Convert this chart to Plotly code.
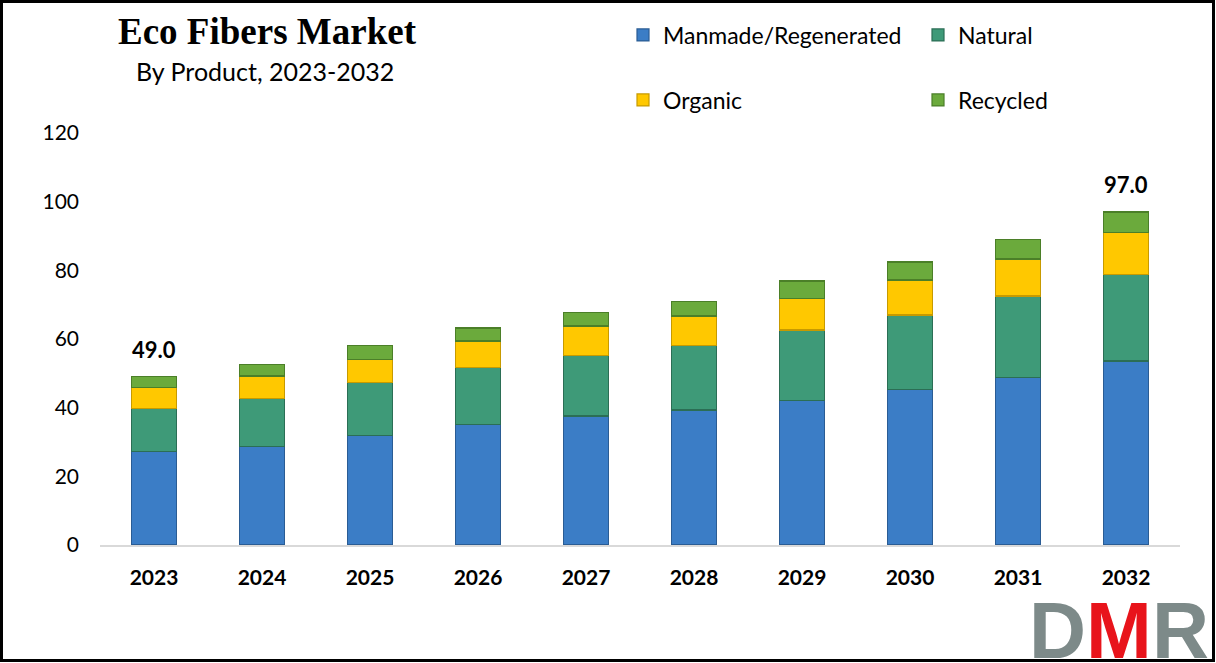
import plotly.graph_objects as go

years = ["2023", "2024", "2025", "2026", "2027", "2028", "2029", "2030", "2031", "2032"]
manmade = [27.2, 28.8, 32.0, 35.2, 37.6, 39.3, 42.2, 45.4, 48.8, 53.6]
natural = [12.6, 13.9, 15.3, 16.4, 17.5, 18.7, 20.4, 21.6, 23.7, 25.3]
organic = [6.1, 6.5, 6.8, 7.8, 8.7, 8.7, 9.3, 10.2, 10.8, 12.1]
recycled = [3.1, 3.4, 3.9, 3.8, 4.0, 4.3, 5.0, 5.2, 5.7, 6.0]
totals = [49.0, 52.6, 58.0, 63.2, 67.8, 71.0, 76.9, 82.4, 89.0, 97.0]
y_ticks = [0, 20, 40, 60, 80, 100, 120]

W, H = 1216, 663
ML, MR, MT, MB = 100, 36, 133, 118
PW, PH = W - ML - MR, H - MT - MB


def px_x(p):
    return (p - ML) / PW


def px_y(p):
    return (H - MB - p) / PH


series = [
    ("Manmade/Regenerated", manmade, "#3B7DC6", "#2A5C94", "legend"),
    ("Natural", natural, "#3E9A78", "#2B6E55", "legend"),
    ("Organic", organic, "#FFC800", "#C79A00", "legend2"),
    ("Recycled", recycled, "#6BAA3C", "#4B7F28", "legend2"),
]

fig = go.Figure()
for name, vals, col, lcol, lg in series:
    fig.add_trace(go.Bar(
        x=years, y=vals, name=name, legend=lg,
        marker=dict(color=col, line=dict(color=lcol, width=1.2)),
    ))

legend_common = dict(orientation="h", xanchor="left", yanchor="middle",
                     entrywidth=250, entrywidthmode="pixels",
                     font=dict(size=23, family="Lato", color="black"),
                     bgcolor="rgba(0,0,0,0)", traceorder="normal")

fig.update_layout(
    barmode="stack",
    bargap=0.59,
    width=W, height=H,
    autosize=False,
    margin=dict(l=ML, r=MR, t=MT, b=MB, autoexpand=False),
    paper_bgcolor="white",
    plot_bgcolor="white",
    font=dict(family="Lato", color="black"),
    legend=dict(x=px_x(623), y=px_y(35), **legend_common),
    legend2=dict(x=px_x(623), y=px_y(100), **legend_common),
    showlegend=True,
)

fig.update_xaxes(
    type="category",
    showgrid=False, showline=True, linecolor="#D9D9D9", linewidth=2,
    tickfont=dict(size=21, family="Lato", weight="bold"), ticks="", ticklabelstandoff=13,
)
fig.update_yaxes(
    range=[0, 120], tickvals=y_ticks, showgrid=False, zeroline=False, showline=False,
    tickfont=dict(size=21, family="Lato"), ticks="", ticklabelstandoff=20,
)

# value labels for first and last bars (category index positions)
for i in (0, len(years) - 1):
    fig.add_annotation(x=i, y=totals[i], xref="x", yref="y", text=f"{totals[i]:.1f}",
                       showarrow=False, yanchor="bottom", yshift=12,
                       font=dict(size=22, family="Lato", weight="bold", color="black"))

# titles
fig.add_annotation(xref="paper", yref="paper", x=px_x(267), y=px_y(31), text="<b>Eco Fibers Market</b>",
                   showarrow=False, xanchor="center", yanchor="middle",
                   font=dict(size=37, family="Liberation Serif", color="black"))
fig.add_annotation(xref="paper", yref="paper", x=px_x(265), y=px_y(71), text="By Product, 2023-2032",
                   showarrow=False, xanchor="center", yanchor="middle",
                   font=dict(size=25, family="Lato", color="black"))

# logo
fig.add_annotation(xref="paper", yref="paper", x=px_x(1211), y=px_y(630),
                   text="<b><span style='color:#7D8A89'>D</span><span style='color:#E8141B'>M</span><span style='color:#7D8A89'>R</span></b>",
                   showarrow=False, xanchor="right", yanchor="middle",
                   font=dict(size=79, family="Liberation Sans"))

# page border
fig.add_shape(type="rect", xref="paper", yref="paper",
              x0=px_x(1.5), x1=px_x(1213.5), y0=px_y(660.5), y1=px_y(1.5),
              line=dict(color="black", width=3), fillcolor="rgba(0,0,0,0)", layer="above")

fig.write_html(
    "out.html",
    config={"displayModeBar": False},
    post_script="document.body.style.margin='0';document.body.style.overflow='hidden';",
)
